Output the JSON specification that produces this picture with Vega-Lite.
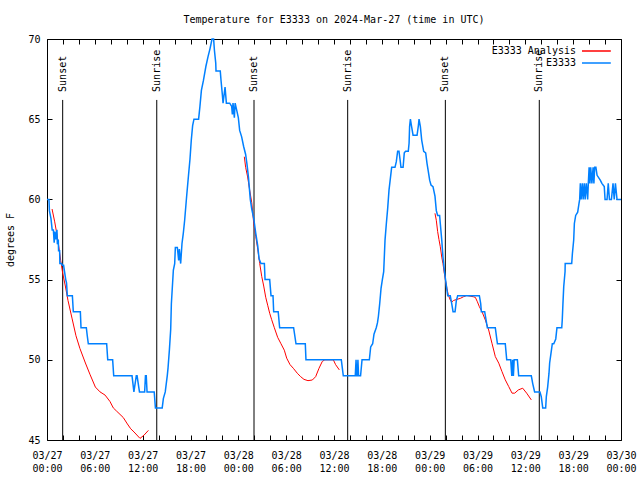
{
  "$schema": "https://vega.github.io/schema/vega-lite/v6.json",
  "width": 574,
  "height": 401,
  "autosize": {"type": "none"},
  "padding": {"left": 47, "top": 39, "right": 19, "bottom": 40},
  "background": "white",
  "title": {"text": "Temperature for E3333 on 2024-Mar-27 (time in UTC)", "font": "DejaVu Sans Mono", "fontSize": 10, "fontWeight": "normal", "color": "black", "anchor": "middle", "frame": "group", "offset": 9},
  "config": {
    "view": {"stroke": "black", "strokeWidth": 1},
    "axis": {"labelFont": "DejaVu Sans Mono", "labelFontSize": 10, "labelColor": "black", "tickColor": "black", "tickWidth": 1, "grid": false, "domain": false, "titleFont": "DejaVu Sans Mono", "titleFontSize": 10, "titleFontWeight": "normal", "titleColor": "black"}
  },
  "datasets": {
    "sun": [
      {"t": "2024-03-27T01:58:00Z", "label": "Sunset"},
      {"t": "2024-03-27T13:46:00Z", "label": "Sunrise"},
      {"t": "2024-03-28T01:58:00Z", "label": "Sunset"},
      {"t": "2024-03-28T13:43:00Z", "label": "Sunrise"},
      {"t": "2024-03-29T01:58:00Z", "label": "Sunset"},
      {"t": "2024-03-29T13:45:00Z", "label": "Sunrise"}
    ],
    "ana": [
      {"t": "2024-03-27T00:38:00Z", "v": 59.4, "run": 1},
      {"t": "2024-03-27T00:58:00Z", "v": 58.6, "run": 1},
      {"t": "2024-03-27T01:13:00Z", "v": 57.9, "run": 1},
      {"t": "2024-03-27T01:28:00Z", "v": 57.1, "run": 1},
      {"t": "2024-03-27T01:43:00Z", "v": 56.2, "run": 1},
      {"t": "2024-03-27T01:58:00Z", "v": 55.4, "run": 1},
      {"t": "2024-03-27T02:18:00Z", "v": 54.6, "run": 1},
      {"t": "2024-03-27T02:38:00Z", "v": 53.7, "run": 1},
      {"t": "2024-03-27T03:08:00Z", "v": 52.6, "run": 1},
      {"t": "2024-03-27T03:38:00Z", "v": 51.5, "run": 1},
      {"t": "2024-03-27T04:08:00Z", "v": 50.7, "run": 1},
      {"t": "2024-03-27T04:49:00Z", "v": 49.8, "run": 1},
      {"t": "2024-03-27T05:23:00Z", "v": 49.1, "run": 1},
      {"t": "2024-03-27T06:04:00Z", "v": 48.3, "run": 1},
      {"t": "2024-03-27T06:39:00Z", "v": 48.0, "run": 1},
      {"t": "2024-03-27T07:17:00Z", "v": 47.8, "run": 1},
      {"t": "2024-03-27T07:54:00Z", "v": 47.4, "run": 1},
      {"t": "2024-03-27T08:19:00Z", "v": 47.0, "run": 1},
      {"t": "2024-03-27T08:44:00Z", "v": 46.8, "run": 1},
      {"t": "2024-03-27T09:34:00Z", "v": 46.4, "run": 1},
      {"t": "2024-03-27T10:05:00Z", "v": 46.0, "run": 1},
      {"t": "2024-03-27T10:30:00Z", "v": 45.7, "run": 1},
      {"t": "2024-03-27T10:55:00Z", "v": 45.5, "run": 1},
      {"t": "2024-03-27T11:40:00Z", "v": 45.1, "run": 1},
      {"t": "2024-03-27T12:10:00Z", "v": 45.3, "run": 1},
      {"t": "2024-03-27T12:43:00Z", "v": 45.6, "run": 1},
      {"t": "2024-03-28T00:45:00Z", "v": 62.66, "run": 2},
      {"t": "2024-03-28T00:55:00Z", "v": 62.0, "run": 2},
      {"t": "2024-03-28T01:10:00Z", "v": 61.4, "run": 2},
      {"t": "2024-03-28T01:25:00Z", "v": 60.6, "run": 2},
      {"t": "2024-03-28T01:41:00Z", "v": 59.8, "run": 2},
      {"t": "2024-03-28T01:56:00Z", "v": 58.5, "run": 2},
      {"t": "2024-03-28T02:11:00Z", "v": 57.7, "run": 2},
      {"t": "2024-03-28T02:26:00Z", "v": 56.9, "run": 2},
      {"t": "2024-03-28T02:41:00Z", "v": 56.0, "run": 2},
      {"t": "2024-03-28T02:56:00Z", "v": 55.2, "run": 2},
      {"t": "2024-03-28T03:11:00Z", "v": 54.6, "run": 2},
      {"t": "2024-03-28T03:26:00Z", "v": 53.9, "run": 2},
      {"t": "2024-03-28T03:41:00Z", "v": 53.4, "run": 2},
      {"t": "2024-03-28T03:56:00Z", "v": 52.9, "run": 2},
      {"t": "2024-03-28T04:11:00Z", "v": 52.5, "run": 2},
      {"t": "2024-03-28T04:31:00Z", "v": 52.0, "run": 2},
      {"t": "2024-03-28T04:56:00Z", "v": 51.4, "run": 2},
      {"t": "2024-03-28T05:21:00Z", "v": 51.0, "run": 2},
      {"t": "2024-03-28T05:46:00Z", "v": 50.6, "run": 2},
      {"t": "2024-03-28T06:04:00Z", "v": 50.1, "run": 2},
      {"t": "2024-03-28T06:29:00Z", "v": 49.7, "run": 2},
      {"t": "2024-03-28T06:54:00Z", "v": 49.47, "run": 2},
      {"t": "2024-03-28T07:24:00Z", "v": 49.16, "run": 2},
      {"t": "2024-03-28T07:49:00Z", "v": 48.95, "run": 2},
      {"t": "2024-03-28T08:14:00Z", "v": 48.78, "run": 2},
      {"t": "2024-03-28T08:44:00Z", "v": 48.7, "run": 2},
      {"t": "2024-03-28T09:17:00Z", "v": 48.74, "run": 2},
      {"t": "2024-03-28T09:42:00Z", "v": 48.95, "run": 2},
      {"t": "2024-03-28T10:07:00Z", "v": 49.47, "run": 2},
      {"t": "2024-03-28T10:32:00Z", "v": 49.9, "run": 2},
      {"t": "2024-03-28T10:51:00Z", "v": 50.0, "run": 2},
      {"t": "2024-03-28T11:55:00Z", "v": 50.0, "run": 2},
      {"t": "2024-03-28T12:12:00Z", "v": 49.7, "run": 2},
      {"t": "2024-03-28T12:40:00Z", "v": 49.37, "run": 2},
      {"t": "2024-03-29T00:40:00Z", "v": 59.13, "run": 3},
      {"t": "2024-03-29T00:50:00Z", "v": 58.7, "run": 3},
      {"t": "2024-03-29T01:00:00Z", "v": 58.0, "run": 3},
      {"t": "2024-03-29T01:10:00Z", "v": 57.5, "run": 3},
      {"t": "2024-03-29T01:20:00Z", "v": 57.05, "run": 3},
      {"t": "2024-03-29T01:31:00Z", "v": 56.4, "run": 3},
      {"t": "2024-03-29T01:40:00Z", "v": 56.0, "run": 3},
      {"t": "2024-03-29T01:50:00Z", "v": 55.4, "run": 3},
      {"t": "2024-03-29T02:01:00Z", "v": 54.87, "run": 3},
      {"t": "2024-03-29T02:10:00Z", "v": 54.45, "run": 3},
      {"t": "2024-03-29T02:20:00Z", "v": 54.04, "run": 3},
      {"t": "2024-03-29T02:35:00Z", "v": 53.73, "run": 3},
      {"t": "2024-03-29T02:46:00Z", "v": 53.6, "run": 3},
      {"t": "2024-03-29T03:00:00Z", "v": 53.7, "run": 3},
      {"t": "2024-03-29T03:26:00Z", "v": 53.77, "run": 3},
      {"t": "2024-03-29T03:51:00Z", "v": 53.83, "run": 3},
      {"t": "2024-03-29T04:14:00Z", "v": 53.93, "run": 3},
      {"t": "2024-03-29T04:39:00Z", "v": 54.01, "run": 3},
      {"t": "2024-03-29T05:04:00Z", "v": 53.97, "run": 3},
      {"t": "2024-03-29T05:29:00Z", "v": 53.93, "run": 3},
      {"t": "2024-03-29T05:44:00Z", "v": 53.89, "run": 3},
      {"t": "2024-03-29T05:59:00Z", "v": 53.62, "run": 3},
      {"t": "2024-03-29T06:14:00Z", "v": 53.31, "run": 3},
      {"t": "2024-03-29T06:34:00Z", "v": 53.0, "run": 3},
      {"t": "2024-03-29T06:59:00Z", "v": 52.48, "run": 3},
      {"t": "2024-03-29T07:24:00Z", "v": 51.86, "run": 3},
      {"t": "2024-03-29T07:49:00Z", "v": 51.03, "run": 3},
      {"t": "2024-03-29T08:14:00Z", "v": 50.2, "run": 3},
      {"t": "2024-03-29T08:40:00Z", "v": 49.79, "run": 3},
      {"t": "2024-03-29T09:04:00Z", "v": 49.27, "run": 3},
      {"t": "2024-03-29T09:29:00Z", "v": 48.75, "run": 3},
      {"t": "2024-03-29T09:55:00Z", "v": 48.33, "run": 3},
      {"t": "2024-03-29T10:20:00Z", "v": 47.92, "run": 3},
      {"t": "2024-03-29T10:40:00Z", "v": 47.92, "run": 3},
      {"t": "2024-03-29T11:07:00Z", "v": 48.12, "run": 3},
      {"t": "2024-03-29T11:40:00Z", "v": 48.23, "run": 3},
      {"t": "2024-03-29T12:10:00Z", "v": 47.92, "run": 3},
      {"t": "2024-03-29T12:45:00Z", "v": 47.5, "run": 3}
    ],
    "obs": [
      {"t": "2024-03-27T00:00:00Z", "v": 60},
      {"t": "2024-03-27T00:15:00Z", "v": 60},
      {"t": "2024-03-27T00:18:00Z", "v": 59.3},
      {"t": "2024-03-27T00:30:00Z", "v": 58.8},
      {"t": "2024-03-27T00:39:00Z", "v": 58.1},
      {"t": "2024-03-27T00:48:00Z", "v": 58.1},
      {"t": "2024-03-27T00:54:00Z", "v": 57.3},
      {"t": "2024-03-27T01:00:00Z", "v": 58},
      {"t": "2024-03-27T01:06:00Z", "v": 57.5},
      {"t": "2024-03-27T01:15:00Z", "v": 58.1},
      {"t": "2024-03-27T01:18:00Z", "v": 57.2},
      {"t": "2024-03-27T01:25:00Z", "v": 57.5},
      {"t": "2024-03-27T01:27:00Z", "v": 56.8},
      {"t": "2024-03-27T01:35:00Z", "v": 56.8},
      {"t": "2024-03-27T01:37:00Z", "v": 56},
      {"t": "2024-03-27T01:50:00Z", "v": 56},
      {"t": "2024-03-27T01:54:00Z", "v": 55.9},
      {"t": "2024-03-27T02:05:00Z", "v": 55.9},
      {"t": "2024-03-27T02:12:00Z", "v": 55.5},
      {"t": "2024-03-27T02:21:00Z", "v": 55},
      {"t": "2024-03-27T02:27:00Z", "v": 54.8},
      {"t": "2024-03-27T02:33:00Z", "v": 54},
      {"t": "2024-03-27T03:11:00Z", "v": 54},
      {"t": "2024-03-27T03:18:00Z", "v": 53},
      {"t": "2024-03-27T04:11:00Z", "v": 53},
      {"t": "2024-03-27T04:16:00Z", "v": 52},
      {"t": "2024-03-27T04:56:00Z", "v": 52},
      {"t": "2024-03-27T05:03:00Z", "v": 51.5},
      {"t": "2024-03-27T05:11:00Z", "v": 51},
      {"t": "2024-03-27T07:29:00Z", "v": 51},
      {"t": "2024-03-27T07:37:00Z", "v": 50},
      {"t": "2024-03-27T08:14:00Z", "v": 50},
      {"t": "2024-03-27T08:22:00Z", "v": 49},
      {"t": "2024-03-27T10:40:00Z", "v": 49},
      {"t": "2024-03-27T10:54:00Z", "v": 48},
      {"t": "2024-03-27T11:12:00Z", "v": 49},
      {"t": "2024-03-27T11:18:00Z", "v": 49},
      {"t": "2024-03-27T11:36:00Z", "v": 48},
      {"t": "2024-03-27T12:15:00Z", "v": 48},
      {"t": "2024-03-27T12:21:00Z", "v": 49},
      {"t": "2024-03-27T12:27:00Z", "v": 49},
      {"t": "2024-03-27T12:33:00Z", "v": 48},
      {"t": "2024-03-27T13:27:00Z", "v": 48},
      {"t": "2024-03-27T13:36:00Z", "v": 47},
      {"t": "2024-03-27T14:27:00Z", "v": 47},
      {"t": "2024-03-27T14:36:00Z", "v": 47.6},
      {"t": "2024-03-27T14:50:00Z", "v": 48},
      {"t": "2024-03-27T15:05:00Z", "v": 49},
      {"t": "2024-03-27T15:11:00Z", "v": 49.5},
      {"t": "2024-03-27T15:21:00Z", "v": 50.6},
      {"t": "2024-03-27T15:31:00Z", "v": 51.9},
      {"t": "2024-03-27T15:36:00Z", "v": 53.5},
      {"t": "2024-03-27T15:51:00Z", "v": 55.6},
      {"t": "2024-03-27T16:01:00Z", "v": 56},
      {"t": "2024-03-27T16:06:00Z", "v": 57},
      {"t": "2024-03-27T16:21:00Z", "v": 57},
      {"t": "2024-03-27T16:31:00Z", "v": 56.2},
      {"t": "2024-03-27T16:36:00Z", "v": 56.9},
      {"t": "2024-03-27T16:46:00Z", "v": 56},
      {"t": "2024-03-27T16:56:00Z", "v": 57.25},
      {"t": "2024-03-27T17:06:00Z", "v": 57.9},
      {"t": "2024-03-27T17:16:00Z", "v": 58.7},
      {"t": "2024-03-27T17:31:00Z", "v": 60.2},
      {"t": "2024-03-27T17:46:00Z", "v": 61.6},
      {"t": "2024-03-27T17:56:00Z", "v": 62.5},
      {"t": "2024-03-27T18:06:00Z", "v": 63.7},
      {"t": "2024-03-27T18:16:00Z", "v": 64.6},
      {"t": "2024-03-27T18:26:00Z", "v": 65},
      {"t": "2024-03-27T19:01:00Z", "v": 65},
      {"t": "2024-03-27T19:11:00Z", "v": 65.8},
      {"t": "2024-03-27T19:22:00Z", "v": 66.8},
      {"t": "2024-03-27T19:37:00Z", "v": 67.4},
      {"t": "2024-03-27T19:56:00Z", "v": 68.3},
      {"t": "2024-03-27T20:12:00Z", "v": 68.9},
      {"t": "2024-03-27T20:27:00Z", "v": 69.4},
      {"t": "2024-03-27T20:42:00Z", "v": 70},
      {"t": "2024-03-27T20:54:00Z", "v": 70},
      {"t": "2024-03-27T21:00:00Z", "v": 69.3},
      {"t": "2024-03-27T21:10:00Z", "v": 68.5},
      {"t": "2024-03-27T21:12:00Z", "v": 68},
      {"t": "2024-03-27T21:44:00Z", "v": 68},
      {"t": "2024-03-27T21:50:00Z", "v": 67.4},
      {"t": "2024-03-27T22:00:00Z", "v": 66.5},
      {"t": "2024-03-27T22:05:00Z", "v": 66},
      {"t": "2024-03-27T22:20:00Z", "v": 67},
      {"t": "2024-03-27T22:30:00Z", "v": 66},
      {"t": "2024-03-27T22:55:00Z", "v": 66},
      {"t": "2024-03-27T23:10:00Z", "v": 65.8},
      {"t": "2024-03-27T23:15:00Z", "v": 65.3},
      {"t": "2024-03-27T23:20:00Z", "v": 66},
      {"t": "2024-03-27T23:30:00Z", "v": 65.1},
      {"t": "2024-03-27T23:36:00Z", "v": 66},
      {"t": "2024-03-28T00:00:00Z", "v": 65.1},
      {"t": "2024-03-28T00:10:00Z", "v": 64.3},
      {"t": "2024-03-28T00:25:00Z", "v": 63.9},
      {"t": "2024-03-28T00:40:00Z", "v": 63.3},
      {"t": "2024-03-28T00:55:00Z", "v": 62.8},
      {"t": "2024-03-28T01:05:00Z", "v": 62.2},
      {"t": "2024-03-28T01:16:00Z", "v": 61.4},
      {"t": "2024-03-28T01:30:00Z", "v": 60},
      {"t": "2024-03-28T01:41:00Z", "v": 59.4},
      {"t": "2024-03-28T01:56:00Z", "v": 58.8},
      {"t": "2024-03-28T02:11:00Z", "v": 57.9},
      {"t": "2024-03-28T02:26:00Z", "v": 57.1},
      {"t": "2024-03-28T02:36:00Z", "v": 56.3},
      {"t": "2024-03-28T02:50:00Z", "v": 56},
      {"t": "2024-03-28T03:16:00Z", "v": 56},
      {"t": "2024-03-28T03:21:00Z", "v": 55},
      {"t": "2024-03-28T03:56:00Z", "v": 55},
      {"t": "2024-03-28T04:06:00Z", "v": 54},
      {"t": "2024-03-28T04:21:00Z", "v": 54},
      {"t": "2024-03-28T04:26:00Z", "v": 53},
      {"t": "2024-03-28T05:00:00Z", "v": 53},
      {"t": "2024-03-28T05:11:00Z", "v": 52},
      {"t": "2024-03-28T06:56:00Z", "v": 52},
      {"t": "2024-03-28T07:14:00Z", "v": 51},
      {"t": "2024-03-28T08:24:00Z", "v": 51},
      {"t": "2024-03-28T08:29:00Z", "v": 50},
      {"t": "2024-03-28T12:55:00Z", "v": 50},
      {"t": "2024-03-28T13:10:00Z", "v": 49},
      {"t": "2024-03-28T14:40:00Z", "v": 49},
      {"t": "2024-03-28T14:46:00Z", "v": 50},
      {"t": "2024-03-28T14:51:00Z", "v": 49},
      {"t": "2024-03-28T14:56:00Z", "v": 49},
      {"t": "2024-03-28T15:00:00Z", "v": 50},
      {"t": "2024-03-28T15:05:00Z", "v": 49},
      {"t": "2024-03-28T15:20:00Z", "v": 49},
      {"t": "2024-03-28T15:31:00Z", "v": 50},
      {"t": "2024-03-28T16:26:00Z", "v": 50},
      {"t": "2024-03-28T16:36:00Z", "v": 50.8},
      {"t": "2024-03-28T16:51:00Z", "v": 51},
      {"t": "2024-03-28T17:01:00Z", "v": 51.6},
      {"t": "2024-03-28T17:18:00Z", "v": 52},
      {"t": "2024-03-28T17:27:00Z", "v": 52.3},
      {"t": "2024-03-28T17:34:00Z", "v": 52.7},
      {"t": "2024-03-28T17:44:00Z", "v": 53.5},
      {"t": "2024-03-28T17:54:00Z", "v": 54.45},
      {"t": "2024-03-28T18:04:00Z", "v": 55},
      {"t": "2024-03-28T18:14:00Z", "v": 55.5},
      {"t": "2024-03-28T18:24:00Z", "v": 57.46},
      {"t": "2024-03-28T18:34:00Z", "v": 58.5},
      {"t": "2024-03-28T18:44:00Z", "v": 59.44},
      {"t": "2024-03-28T18:54:00Z", "v": 60.58},
      {"t": "2024-03-28T19:04:00Z", "v": 61.3},
      {"t": "2024-03-28T19:14:00Z", "v": 62},
      {"t": "2024-03-28T19:39:00Z", "v": 62},
      {"t": "2024-03-28T19:49:00Z", "v": 62.35},
      {"t": "2024-03-28T19:59:00Z", "v": 63},
      {"t": "2024-03-28T20:09:00Z", "v": 63},
      {"t": "2024-03-28T20:19:00Z", "v": 62.35},
      {"t": "2024-03-28T20:24:00Z", "v": 62},
      {"t": "2024-03-28T20:40:00Z", "v": 62},
      {"t": "2024-03-28T20:49:00Z", "v": 62.9},
      {"t": "2024-03-28T20:59:00Z", "v": 63},
      {"t": "2024-03-28T21:19:00Z", "v": 63},
      {"t": "2024-03-28T21:25:00Z", "v": 63.5},
      {"t": "2024-03-28T21:29:00Z", "v": 64.54},
      {"t": "2024-03-28T21:35:00Z", "v": 65},
      {"t": "2024-03-28T21:44:00Z", "v": 64.54},
      {"t": "2024-03-28T21:55:00Z", "v": 64},
      {"t": "2024-03-28T22:25:00Z", "v": 64},
      {"t": "2024-03-28T22:35:00Z", "v": 64.6},
      {"t": "2024-03-28T22:40:00Z", "v": 65},
      {"t": "2024-03-28T22:50:00Z", "v": 64.54},
      {"t": "2024-03-28T23:00:00Z", "v": 63.7},
      {"t": "2024-03-28T23:15:00Z", "v": 63},
      {"t": "2024-03-28T23:30:00Z", "v": 62.9},
      {"t": "2024-03-28T23:40:00Z", "v": 62.25},
      {"t": "2024-03-28T23:50:00Z", "v": 61.73},
      {"t": "2024-03-29T00:00:00Z", "v": 61.2},
      {"t": "2024-03-29T00:10:00Z", "v": 60.9},
      {"t": "2024-03-29T00:25:00Z", "v": 60.8},
      {"t": "2024-03-29T00:40:00Z", "v": 60.2},
      {"t": "2024-03-29T00:50:00Z", "v": 59.3},
      {"t": "2024-03-29T01:00:00Z", "v": 59},
      {"t": "2024-03-29T01:15:00Z", "v": 59},
      {"t": "2024-03-29T01:20:00Z", "v": 58.5},
      {"t": "2024-03-29T01:31:00Z", "v": 57.46},
      {"t": "2024-03-29T01:40:00Z", "v": 56.42},
      {"t": "2024-03-29T01:50:00Z", "v": 55.6},
      {"t": "2024-03-29T02:01:00Z", "v": 54.9},
      {"t": "2024-03-29T02:10:00Z", "v": 54.36},
      {"t": "2024-03-29T02:16:00Z", "v": 54},
      {"t": "2024-03-29T02:35:00Z", "v": 54},
      {"t": "2024-03-29T02:46:00Z", "v": 53.5},
      {"t": "2024-03-29T02:56:00Z", "v": 53},
      {"t": "2024-03-29T03:11:00Z", "v": 53},
      {"t": "2024-03-29T03:21:00Z", "v": 53.7},
      {"t": "2024-03-29T03:31:00Z", "v": 54},
      {"t": "2024-03-29T06:14:00Z", "v": 54},
      {"t": "2024-03-29T06:24:00Z", "v": 53.5},
      {"t": "2024-03-29T06:29:00Z", "v": 53},
      {"t": "2024-03-29T06:54:00Z", "v": 53},
      {"t": "2024-03-29T07:04:00Z", "v": 52.5},
      {"t": "2024-03-29T07:14:00Z", "v": 52},
      {"t": "2024-03-29T08:14:00Z", "v": 52},
      {"t": "2024-03-29T08:25:00Z", "v": 51.3},
      {"t": "2024-03-29T08:30:00Z", "v": 51},
      {"t": "2024-03-29T09:29:00Z", "v": 51},
      {"t": "2024-03-29T09:40:00Z", "v": 50},
      {"t": "2024-03-29T10:10:00Z", "v": 50},
      {"t": "2024-03-29T10:18:00Z", "v": 49},
      {"t": "2024-03-29T10:24:00Z", "v": 50},
      {"t": "2024-03-29T10:30:00Z", "v": 49},
      {"t": "2024-03-29T10:36:00Z", "v": 50},
      {"t": "2024-03-29T11:00:00Z", "v": 50},
      {"t": "2024-03-29T11:10:00Z", "v": 49},
      {"t": "2024-03-29T12:45:00Z", "v": 49},
      {"t": "2024-03-29T12:56:00Z", "v": 48.5},
      {"t": "2024-03-29T13:10:00Z", "v": 48},
      {"t": "2024-03-29T13:50:00Z", "v": 48},
      {"t": "2024-03-29T14:00:00Z", "v": 47.7},
      {"t": "2024-03-29T14:11:00Z", "v": 47},
      {"t": "2024-03-29T14:33:00Z", "v": 47},
      {"t": "2024-03-29T14:38:00Z", "v": 47.7},
      {"t": "2024-03-29T14:48:00Z", "v": 48.3},
      {"t": "2024-03-29T14:58:00Z", "v": 49.15},
      {"t": "2024-03-29T15:03:00Z", "v": 49.8},
      {"t": "2024-03-29T15:13:00Z", "v": 50.4},
      {"t": "2024-03-29T15:23:00Z", "v": 51},
      {"t": "2024-03-29T15:34:00Z", "v": 51},
      {"t": "2024-03-29T15:49:00Z", "v": 51.3},
      {"t": "2024-03-29T15:58:00Z", "v": 52},
      {"t": "2024-03-29T16:34:00Z", "v": 52},
      {"t": "2024-03-29T16:38:00Z", "v": 52.5},
      {"t": "2024-03-29T16:43:00Z", "v": 53.5},
      {"t": "2024-03-29T16:49:00Z", "v": 54.56},
      {"t": "2024-03-29T16:59:00Z", "v": 55.5},
      {"t": "2024-03-29T17:00:00Z", "v": 56},
      {"t": "2024-03-29T17:49:00Z", "v": 56},
      {"t": "2024-03-29T17:54:00Z", "v": 56.6},
      {"t": "2024-03-29T18:04:00Z", "v": 57.47},
      {"t": "2024-03-29T18:09:00Z", "v": 58.5},
      {"t": "2024-03-29T18:19:00Z", "v": 59},
      {"t": "2024-03-29T18:34:00Z", "v": 59.2},
      {"t": "2024-03-29T18:44:00Z", "v": 59.75},
      {"t": "2024-03-29T18:49:00Z", "v": 60},
      {"t": "2024-03-29T18:54:00Z", "v": 61},
      {"t": "2024-03-29T19:00:00Z", "v": 60},
      {"t": "2024-03-29T19:09:00Z", "v": 61},
      {"t": "2024-03-29T19:15:00Z", "v": 60},
      {"t": "2024-03-29T19:24:00Z", "v": 61},
      {"t": "2024-03-29T19:30:00Z", "v": 60},
      {"t": "2024-03-29T19:39:00Z", "v": 61},
      {"t": "2024-03-29T19:49:00Z", "v": 60},
      {"t": "2024-03-29T19:54:00Z", "v": 61},
      {"t": "2024-03-29T20:00:00Z", "v": 62},
      {"t": "2024-03-29T20:06:00Z", "v": 61},
      {"t": "2024-03-29T20:12:00Z", "v": 62},
      {"t": "2024-03-29T20:21:00Z", "v": 61},
      {"t": "2024-03-29T20:30:00Z", "v": 62},
      {"t": "2024-03-29T20:36:00Z", "v": 61},
      {"t": "2024-03-29T20:42:00Z", "v": 62},
      {"t": "2024-03-29T20:51:00Z", "v": 62},
      {"t": "2024-03-29T21:00:00Z", "v": 61.5},
      {"t": "2024-03-29T21:24:00Z", "v": 61.2},
      {"t": "2024-03-29T21:36:00Z", "v": 61},
      {"t": "2024-03-29T21:54:00Z", "v": 60.8},
      {"t": "2024-03-29T22:00:00Z", "v": 60},
      {"t": "2024-03-29T22:15:00Z", "v": 60},
      {"t": "2024-03-29T22:24:00Z", "v": 61},
      {"t": "2024-03-29T22:33:00Z", "v": 60},
      {"t": "2024-03-29T22:48:00Z", "v": 60},
      {"t": "2024-03-29T23:00:00Z", "v": 61},
      {"t": "2024-03-29T23:09:00Z", "v": 60},
      {"t": "2024-03-29T23:18:00Z", "v": 61},
      {"t": "2024-03-29T23:30:00Z", "v": 60},
      {"t": "2024-03-30T00:00:00Z", "v": 60}
    ]
  },
  "layer": [
    {
      "data": {"name": "sun"},
      "mark": {"type": "rule", "color": "black", "strokeWidth": 1},
      "encoding": {
        "x": {"field": "t", "type": "temporal",
          "scale": {"type": "utc", "nice": false, "domain": [1711497600000, 1711756800000]},
          "axis": {"orient": "top", "values": [1711497600000, 1711504800000, 1711512000000, 1711519200000, 1711526400000, 1711533600000, 1711540800000, 1711548000000, 1711555200000, 1711562400000, 1711569600000, 1711576800000, 1711584000000, 1711591200000, 1711598400000, 1711605600000, 1711612800000, 1711620000000, 1711627200000, 1711634400000, 1711641600000, 1711648800000, 1711656000000, 1711663200000, 1711670400000, 1711677600000, 1711684800000, 1711692000000, 1711699200000, 1711706400000, 1711713600000, 1711720800000, 1711728000000, 1711735200000, 1711742400000, 1711749600000, 1711756800000], "labels": false, "tickSize": -5, "domain": false, "grid": false, "title": null}},
        "y": {"datum": 66.2, "type": "quantitative",
          "scale": {"domain": [45, 70], "nice": false, "zero": false},
          "axis": {"orient": "right", "values": [45, 50, 55, 60, 65, 70], "labels": false, "tickSize": -5, "domain": false, "grid": false, "title": null}},
        "y2": {"datum": 45}
      }
    },
    {
      "data": {"name": "sun"},
      "mark": {"type": "text", "angle": 270, "align": "left", "baseline": "middle", "font": "DejaVu Sans Mono", "fontSize": 10, "color": "black"},
      "encoding": {
        "x": {"field": "t", "type": "temporal", "axis": null},
        "y": {"datum": 66.7, "type": "quantitative", "axis": null},
        "text": {"field": "label"}
      }
    },
    {
      "data": {"name": "ana"},
      "mark": {"type": "line", "strokeWidth": 1},
      "encoding": {
        "x": {"field": "t", "type": "temporal", "axis": null},
        "y": {"field": "v", "type": "quantitative", "axis": null},
        "detail": {"field": "run", "type": "nominal"},
        "color": {"datum": "E3333 Analysis", "type": "nominal",
          "scale": {"domain": ["E3333 Analysis", "E3333"], "range": ["#ff0000", "#0080ff"]},
          "legend": {"title": null, "orient": "none", "legendX": 534, "legendY": 5, "labelFont": "DejaVu Sans Mono", "labelFontSize": 10, "labelColor": "black", "labelAlign": "right", "labelOffset": -19, "symbolType": "M-1,0H3.8", "symbolSize": 144, "symbolStrokeWidth": 1.5, "symbolFillColor": "transparent", "padding": 0, "rowPadding": 0}}
      }
    },
    {
      "data": {"name": "obs"},
      "mark": {"type": "line", "strokeWidth": 1.5},
      "encoding": {
        "x": {"field": "t", "type": "temporal",
          "axis": {"orient": "bottom", "values": [1711497600000, 1711504800000, 1711512000000, 1711519200000, 1711526400000, 1711533600000, 1711540800000, 1711548000000, 1711555200000, 1711562400000, 1711569600000, 1711576800000, 1711584000000, 1711591200000, 1711598400000, 1711605600000, 1711612800000, 1711620000000, 1711627200000, 1711634400000, 1711641600000, 1711648800000, 1711656000000, 1711663200000, 1711670400000, 1711677600000, 1711684800000, 1711692000000, 1711699200000, 1711706400000, 1711713600000, 1711720800000, 1711728000000, 1711735200000, 1711742400000, 1711749600000, 1711756800000], "labelExpr": "utchours(datum.value) % 6 === 0 ? [utcFormat(datum.value, '%m/%d'), utcFormat(datum.value, '%H:%M')] : ''", "labelFlush": false, "labelOverlap": false, "labelBound": false, "labelAlign": "center", "labelBaseline": "top", "labelPadding": 15, "labelLineHeight": 13, "tickSize": -5, "domain": false, "grid": false, "title": null}},
        "y": {"field": "v", "type": "quantitative",
          "axis": {"orient": "left", "values": [45, 50, 55, 60, 65, 70], "tickSize": -5, "labelPadding": 12, "domain": false, "grid": false, "title": "degrees F", "titlePadding": 12}},
        "color": {"datum": "E3333", "type": "nominal"}
      }
    }
  ],
  "resolve": {"axis": {"x": "independent", "y": "independent"}}
}
